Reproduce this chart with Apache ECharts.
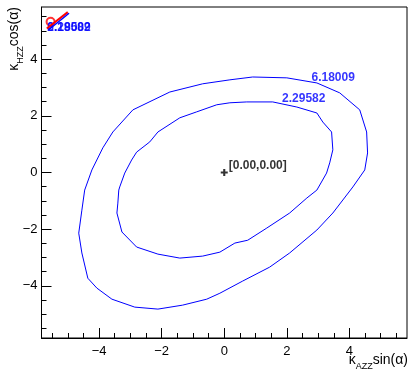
<!DOCTYPE html>
<html>
<head>
<meta charset="utf-8">
<script src="https://cdn.jsdelivr.net/npm/echarts@6/dist/echarts.min.js"></script>
<style>
  html, body { margin: 0; padding: 0; background: #fff; }
  #contourChart { width: 410px; height: 370px; }
</style>
</head>
<body>
<div id="contourChart"></div>
<script>
// axis range and ticks
const axisMin = -5.84
const axisMax = 5.84
const majorTicks = [-4, -2, 0, 2, 4]
const minorTicks = [-5.5, -5, -4.5, -3.5, -3, -2.5, -1.5, -1, -0.5, 0.5, 1, 1.5, 2.5, 3, 3.5, 4.5, 5, 5.5]

// contour levels (outer = 6.18009, inner = 2.29582)
const contourLevels = ['6.18009', '2.29582']
const contourLabelPos = [[3.48, 3.36], [2.54, 2.60]]

const outerContour = [
  [0.18, 3.27], [0.91, 3.37], [2.00, 3.34], [2.96, 3.16], [3.69, 2.81], [4.33, 2.21],
  [4.55, 1.43], [4.58, 0.69], [4.49, 0.09], [4.11, -0.51], [3.79, -0.97], [3.47, -1.43],
  [2.96, -2.03], [2.09, -2.84], [1.45, -3.34], [0.59, -3.83], [-0.14, -4.26], [-0.56, -4.47],
  [-1.33, -4.68], [-2.12, -4.82], [-2.86, -4.75], [-3.59, -4.47], [-4.07, -4.08], [-4.36, -3.73],
  [-4.55, -2.84], [-4.65, -2.14], [-4.55, -1.33], [-4.46, -0.62], [-4.23, 0.09], [-3.88, 0.87],
  [-3.56, 1.43], [-2.92, 2.21], [-1.74, 2.84], [-0.69, 3.13], [0.18, 3.27]
]

const innerContour = [
  [0.18, 2.46], [0.72, 2.49], [1.55, 2.49], [2.32, 2.31], [2.96, 2.10], [3.15, 1.78],
  [3.43, 1.43], [3.47, 0.80], [3.37, 0.34], [3.27, -0.02], [2.96, -0.62], [2.64, -0.90],
  [2.09, -1.43], [1.36, -1.96], [0.75, -2.39], [0.34, -2.49], [-0.14, -2.81], [-0.69, -2.95],
  [-1.42, -3.02], [-2.12, -2.88], [-2.80, -2.63], [-3.27, -2.10], [-3.43, -1.43], [-3.40, -1.08],
  [-3.37, -0.62], [-3.34, -0.51], [-3.18, -0.02], [-2.96, 0.44], [-2.80, 0.72], [-2.38, 1.08],
  [-2.12, 1.43], [-1.42, 1.93], [-0.88, 2.14], [-0.24, 2.39], [0.18, 2.46]
]

// best fit point
const bestFit = [0, 0]
const bestFitLabel = '[0.00,0.00]'

// stray legend marks in the top left corner
const cornerRedLine = [[-5.67, 5.08], [-5.0, 5.66]]
const cornerBlueLine = [[-5.63, 5.02], [-4.96, 5.62]]
const cornerLoop = [-5.55, 5.32]
const cornerTextPos = [-5.67, 5.11]

const font = 'Liberation Sans, Arial, sans-serif'
const minusFmt = (v) => String(v).replace('-', '\u2212')

const titleRich = {
  m: { fontSize: 14, fontFamily: font, color: '#000', padding: [0, 0, 4, 0] },
  s: { fontSize: 9, fontFamily: font, color: '#000', verticalAlign: 'bottom' }
}

function mainAxis(pos) {
  return {
    type: 'value', position: pos, min: axisMin, max: axisMax,
    axisLine: { show: true, onZero: false, lineStyle: { color: '#000', width: 1 } },
    axisTick: { show: true, inside: true, length: 10, customValues: majorTicks, lineStyle: { color: '#000' } },
    axisLabel: {
      customValues: majorTicks, fontSize: 13, fontFamily: font, color: '#000',
      margin: pos === 'bottom' ? 7 : 4, formatter: minusFmt
    },
    splitLine: { show: false }
  }
}
function minorAxis(pos) {
  return {
    type: 'value', position: pos, min: axisMin, max: axisMax,
    axisLine: { show: false, onZero: false },
    axisTick: { show: true, inside: true, length: 5, customValues: minorTicks, lineStyle: { color: '#000' } },
    axisLabel: { show: false },
    splitLine: { show: false }
  }
}

const chart = echarts.init(document.getElementById('contourChart'))

const option = {
  animation: false,
  backgroundColor: '#fff',
  grid: {
    left: 41.5, right: 3, top: 7, bottom: 32,
    show: true, borderColor: '#000', borderWidth: 1,
    containLabel: false, outerBoundsMode: 'none'
  },
  xAxis: [mainAxis('bottom'), minorAxis('bottom')],
  yAxis: [mainAxis('left'), minorAxis('left')],
  graphic: [
    {
      type: 'text', x: 408, y: 362,
      style: { text: '{m|κ}{s|AZZ}{m|sin(α)}', rich: titleRich, align: 'right', verticalAlign: 'middle' }
    },
    {
      type: 'text', x: 16, y: 7, rotation: Math.PI / 2,
      style: { text: '{m|κ}{s|HZZ}{m|cos(α)}', rich: titleRich, align: 'right', verticalAlign: 'middle' }
    }
  ],
  series: [
    {
      type: 'line', name: contourLevels[0], data: outerContour, showSymbol: false,
      lineStyle: { color: '#0000ff', width: 1 }, silent: true
    },
    {
      type: 'line', name: contourLevels[1], data: innerContour, showSymbol: false,
      lineStyle: { color: '#0000ff', width: 1 }, silent: true
    },
    {
      // contour level labels
      type: 'scatter', symbolSize: 1, itemStyle: { color: 'rgba(0,0,0,0)' },
      data: contourLabelPos.map((p, i) => ({ value: p, name: contourLevels[i] })),
      label: {
        show: true, position: 'inside', formatter: '{b}',
        color: '#0000ff', fontWeight: 'bold', fontSize: 12, fontFamily: font
      }
    },
    {
      // best fit marker
      type: 'scatter', data: [bestFit], symbolSize: 7,
      symbol: 'path://M3.5,0H6.5V3.5H10V6.5H6.5V10H3.5V6.5H0V3.5H3.5Z',
      itemStyle: { color: '#000' },
      label: {
        show: true, position: 'right', distance: 1, offset: [0, -7],
        formatter: bestFitLabel, color: '#000', fontWeight: 'bold', fontSize: 12, fontFamily: font
      }
    },
    {
      type: 'line', data: cornerRedLine, showSymbol: false,
      lineStyle: { color: '#ff0000', width: 2 }
    },
    {
      type: 'line', data: cornerBlueLine, showSymbol: false,
      lineStyle: { color: '#0000ff', width: 1.5 }
    },
    {
      type: 'scatter', data: [cornerLoop], symbol: 'emptyCircle', symbolSize: 8,
      itemStyle: { color: '#ff0000', borderColor: '#ff0000', borderWidth: 2 }
    },
    {
      // overlapping level texts in the corner
      type: 'scatter', symbolSize: 1, itemStyle: { color: 'rgba(0,0,0,0)' },
      data: contourLevels.map((t) => ({ value: cornerTextPos, name: t })),
      label: {
        show: true, position: 'right', distance: 0, formatter: '{b}',
        color: '#0000ff', fontWeight: 'bold', fontSize: 12, fontFamily: font
      }
    }
  ]
}

chart.setOption(option)
</script>
</body>
</html>
